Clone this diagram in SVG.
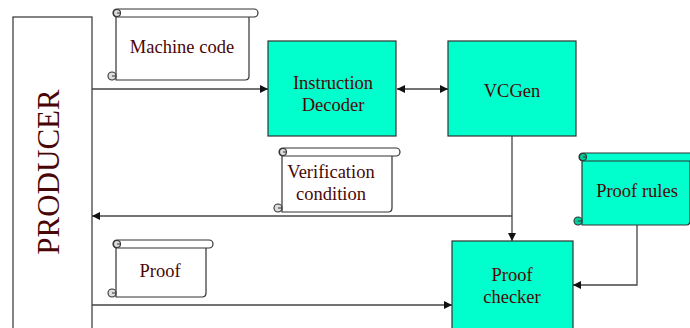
<svg xmlns="http://www.w3.org/2000/svg" width="690" height="328" viewBox="0 0 690 328">
  <style>
    .box { fill: #00FFCC; stroke: #333; stroke-width: 1.2; }
    .plain { fill: #fff; stroke: #333; stroke-width: 1.2; }
    .label { font-family: "Liberation Serif", "Times New Roman", serif; font-size: 18.5px; fill: #4a0606; text-anchor: middle; }
    .wire { fill: none; stroke: #444; stroke-width: 1.3; }
    .curl { stroke: #333; stroke-width: 1.1; }
    .spiral { fill: none; stroke: #333; stroke-width: 1; }
  </style>
  <defs>
    <marker id="arrow" viewBox="0 0 10 10" refX="10" refY="5" markerWidth="8" markerHeight="8" markerUnits="userSpaceOnUse" orient="auto-start-reverse">
      <path d="M0,0 L10,5 L0,10 z" fill="#111"/>
    </marker>
  </defs>

  <rect width="690" height="328" fill="#fff"/>

  <!-- Producer column -->
  <g id="producer">
    <rect x="13" y="17" width="79" height="330" class="plain"/>
    <text class="label" transform="translate(59,172) rotate(-90)" style="font-size:31px">PRODUCER</text>
  </g>

  <!-- Scroll: Machine code -->
  <g id="machine-code">
    <path class="plain" d="M116,13 L116,80 L245,80 Q249,80 249,76 L249,17"/>
    <rect x="113" y="9" width="145" height="8" rx="4" class="plain"/>
    <circle cx="117" cy="13" r="3.5" class="curl" fill="#ddd"/>
    <path class="spiral" d="M117,13 L120,13"/>
    <circle cx="112" cy="76" r="4" class="curl" fill="#ddd"/>
    <path class="spiral" d="M112,76 L116,76"/>
    <text class="label" x="182" y="53">Machine code</text>
  </g>

  <!-- Instruction Decoder -->
  <g id="decoder">
    <rect x="268" y="41" width="128" height="95" class="box"/>
    <text class="label" x="333" y="89">Instruction</text>
    <text class="label" x="333" y="111">Decoder</text>
  </g>

  <!-- VCGen -->
  <g id="vcgen">
    <rect x="448" y="41" width="128" height="95" class="box"/>
    <text class="label" x="512" y="97">VCGen</text>
  </g>

  <!-- Scroll: Verification condition -->
  <g id="verification-condition">
    <path class="plain" d="M282,152 L282,212 L388,212 Q392,212 392,208 L392,156"/>
    <rect x="279" y="148" width="121" height="8" rx="4" class="plain"/>
    <circle cx="283" cy="152" r="3.5" class="curl" fill="#ddd"/>
    <path class="spiral" d="M283,152 L286,152"/>
    <circle cx="278" cy="208" r="4" class="curl" fill="#ddd"/>
    <path class="spiral" d="M278,208 L282,208"/>
    <text class="label" x="331" y="178">Verification</text>
    <text class="label" x="331" y="200">condition</text>
  </g>

  <!-- Scroll: Proof rules -->
  <g id="proof-rules">
    <path class="box" d="M582,157 L582,225 L686,225 Q690,225 690,221 L690,161"/>
    <rect x="579" y="153" width="118" height="8" rx="4" class="box"/>
    <circle cx="583" cy="157" r="3.5" class="curl" fill="#00CC99"/>
    <path class="spiral" d="M583,157 L586,157"/>
    <circle cx="578" cy="221" r="4" class="curl" fill="#00CC99"/>
    <path class="spiral" d="M578,221 L582,221"/>
    <text class="label" x="637" y="197">Proof rules</text>
  </g>

  <!-- Scroll: Proof -->
  <g id="proof">
    <path class="plain" d="M116,244 L116,297 L202,297 Q206,297 206,293 L206,248"/>
    <rect x="113" y="240" width="100" height="8" rx="4" class="plain"/>
    <circle cx="117" cy="244" r="3.5" class="curl" fill="#ddd"/>
    <path class="spiral" d="M117,244 L120,244"/>
    <circle cx="112" cy="293" r="4" class="curl" fill="#ddd"/>
    <path class="spiral" d="M112,293 L116,293"/>
    <text class="label" x="160" y="277">Proof</text>
  </g>

  <!-- Proof checker -->
  <g id="proof-checker">
    <rect x="452" y="241" width="121" height="100" class="box"/>
    <text class="label" x="512" y="281">Proof</text>
    <text class="label" x="512" y="303">checker</text>
  </g>

  <!-- Connectors -->
  <g id="connectors">
    <line class="wire" x1="92" y1="89" x2="268" y2="89" marker-end="url(#arrow)"/>
    <line class="wire" x1="397" y1="89" x2="448" y2="89" marker-start="url(#arrow)" marker-end="url(#arrow)"/>
    <line class="wire" x1="512" y1="136" x2="512" y2="241" marker-end="url(#arrow)"/>
    <line class="wire" x1="512" y1="216" x2="92" y2="216" marker-end="url(#arrow)"/>
    <polyline class="wire" points="637,225 637,285 573,285" marker-end="url(#arrow)"/>
    <line class="wire" x1="92" y1="305" x2="452" y2="305" marker-end="url(#arrow)"/>
  </g>
</svg>
